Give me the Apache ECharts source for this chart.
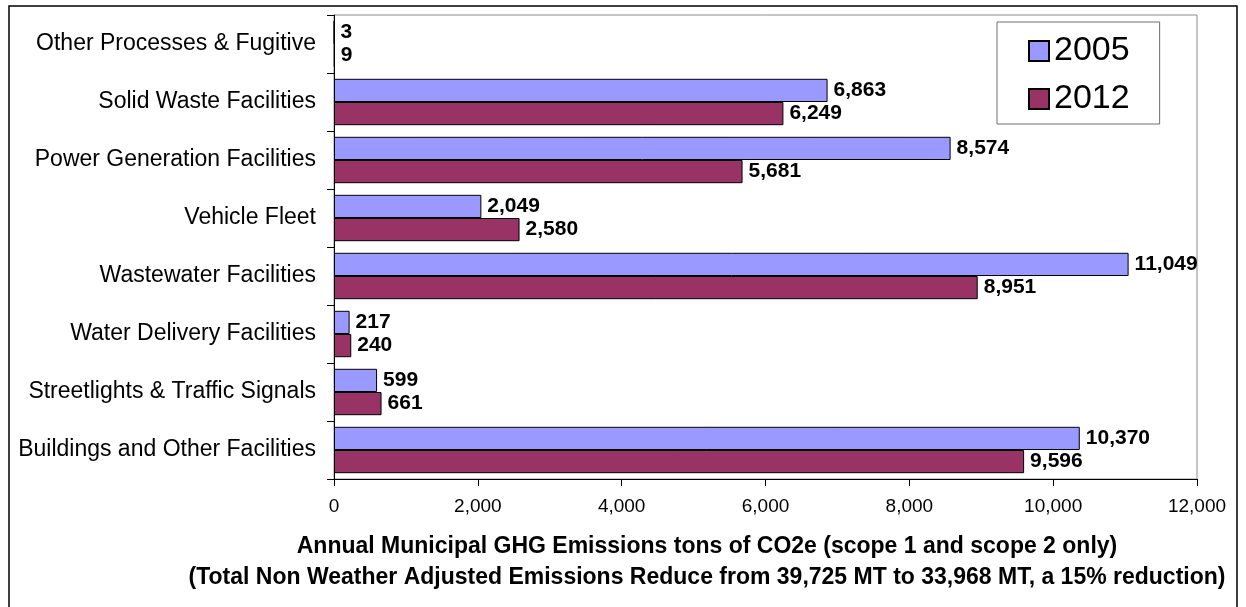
<!DOCTYPE html>
<html>
<head>
<meta charset="utf-8">
<title>Annual Municipal GHG Emissions</title>
<script src="https://cdn.jsdelivr.net/npm/echarts@6/dist/echarts.min.js"></script>
<style>
  html, body { margin: 0; padding: 0; background: #ffffff; }
  #chart { width: 1246px; height: 607px; }
</style>
</head>
<body>
<div id="chart"></div>
<script>
// Emission sources, listed bottom to top on the category axis
const categories = [
  'Buildings and Other Facilities',
  'Streetlights & Traffic Signals',
  'Water Delivery Facilities',
  'Wastewater Facilities',
  'Vehicle Fleet',
  'Power Generation Facilities',
  'Solid Waste Facilities',
  'Other Processes & Fugitive'
];

// Tons of CO2e per source
const values2005 = [10370, 599, 217, 11049, 2049, 8574, 6863, 3];
const values2012 = [9596, 661, 240, 8951, 2580, 5681, 6249, 9];

const seriesNames = ['2005', '2012'];
const xTicks = { min: 0, max: 12000, step: 2000 };

const titleLine1 = 'Annual Municipal GHG Emissions tons of CO2e (scope 1 and scope 2 only)';
const titleLine2 = '(Total Non Weather Adjusted Emissions Reduce from 39,725 MT to 33,968 MT, a 15% reduction)';

const FONT = "'Liberation Sans', Arial, Helvetica, sans-serif";
const fmt = v => Number(v).toLocaleString('en-US');

const chart = echarts.init(document.getElementById('chart'), null, { renderer: 'canvas' });

const valueLabel = {
  show: true,
  position: 'right',
  distance: 6,
  color: '#000',
  fontFamily: FONT,
  fontWeight: 'bold',
  fontSize: 21,
  formatter: p => fmt(p.value)
};

chart.setOption({
  animation: false,
  backgroundColor: '#ffffff',
  grid: {
    left: 334, right: 49, top: 15, bottom: 128,
    show: true,
    borderColor: '#8c8c8c',
    borderWidth: 1,
    backgroundColor: 'transparent'
  },
  legend: {
    data: seriesNames,
    orient: 'vertical',
    left: 997,
    top: 22,
    padding: [12, 30, 8, 31],
    itemWidth: 20,
    itemHeight: 20,
    itemGap: 14,
    itemTextGap: 11,
    icon: 'rect',
    borderColor: '#6e6e6e',
    borderWidth: 1,
    backgroundColor: '#ffffff',
    textStyle: { fontFamily: FONT, fontSize: 34, color: '#000', lineHeight: 32 }
  },
  xAxis: {
    type: 'value',
    min: xTicks.min,
    max: xTicks.max,
    interval: xTicks.step,
    axisLine: { show: true, lineStyle: { color: '#000', width: 1 } },
    axisTick: { show: true, length: 7, lineStyle: { color: '#000' } },
    splitLine: { show: false },
    axisLabel: {
      color: '#000',
      fontFamily: FONT,
      fontSize: 19,
      margin: 18,
      formatter: v => fmt(v)
    }
  },
  yAxis: {
    type: 'category',
    data: categories,
    axisLine: { show: true, lineStyle: { color: '#000', width: 1 } },
    axisTick: { show: true, length: 7, lineStyle: { color: '#000' } },
    splitLine: { show: false },
    axisLabel: {
      color: '#000',
      fontFamily: FONT,
      fontSize: 23,
      margin: 18
    }
  },
  series: [
    {
      name: seriesNames[0],
      type: 'bar',
      data: values2005,
      barCategoryGap: '20%',
      barGap: '0%',
      itemStyle: { color: '#9999ff', borderColor: '#000', borderWidth: 1 },
      label: valueLabel
    },
    {
      name: seriesNames[1],
      type: 'bar',
      data: values2012,
      barCategoryGap: '20%',
      barGap: '0%',
      itemStyle: { color: '#993366', borderColor: '#000', borderWidth: 1 },
      label: valueLabel
    }
  ],
  graphic: [
    {
      type: 'rect',
      silent: true,
      shape: { x: 9, y: 6, width: 1228, height: 620 },
      style: { fill: 'none', stroke: '#000', lineWidth: 1.5 },
      z: 100
    },
    {
      type: 'text',
      silent: true,
      x: 707, y: 547,
      style: {
        text: titleLine1,
        x: 0, y: 0,
        textAlign: 'center',
        textVerticalAlign: 'middle',
        font: 'bold 23px ' + FONT,
        fill: '#000'
      }
    },
    {
      type: 'text',
      silent: true,
      x: 707, y: 578,
      style: {
        text: titleLine2,
        x: 0, y: 0,
        textAlign: 'center',
        textVerticalAlign: 'middle',
        font: 'bold 23px ' + FONT,
        fill: '#000'
      }
    }
  ]
});
</script>
</body>
</html>
